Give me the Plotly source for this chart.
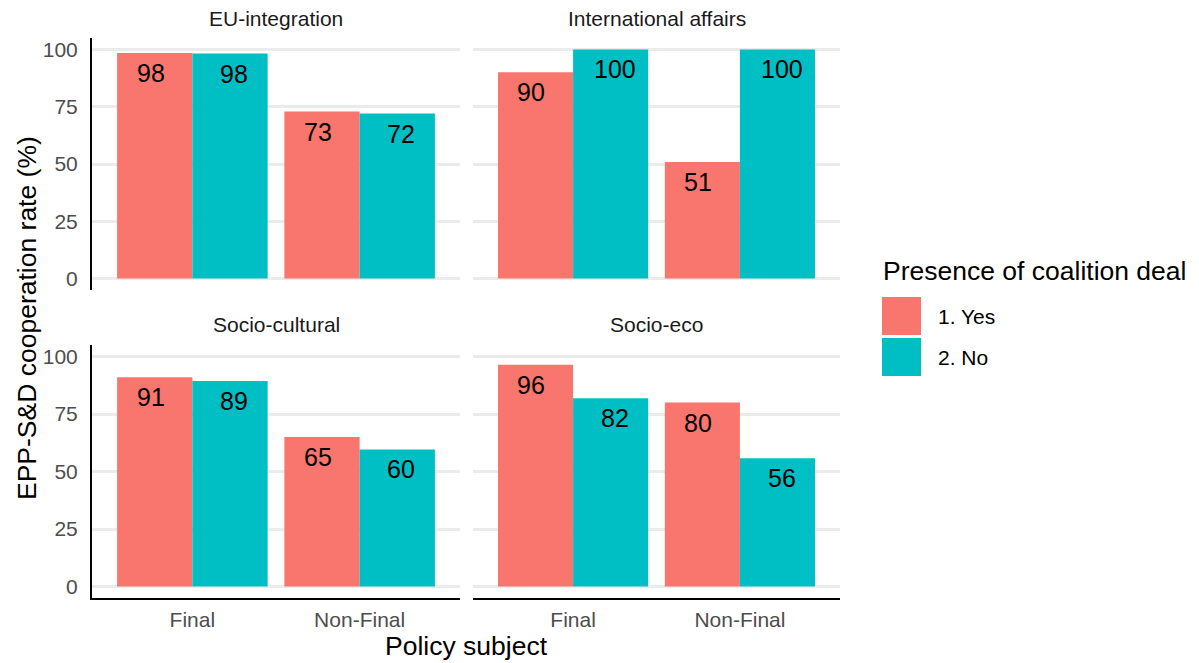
import plotly.graph_objects as go

# ---------------- data ----------------
facets = ["EU-integration", "International affairs", "Socio-cultural", "Socio-eco"]
categories = ["Final", "Non-Final"]
groups = ["1. Yes", "2. No"]
colors = ["#F8766D", "#00BFC4"]

yes_eu = [98.5, 72.9]
no_eu = [98.2, 72.0]
yes_ia = [90.0, 50.9]
no_ia = [100.0, 100.0]
yes_sc = [91.0, 65.0]
no_sc = [89.3, 59.6]
yes_se = [96.4, 80.0]
no_se = [81.9, 55.8]

yes_values = [yes_eu, yes_ia, yes_sc, yes_se]
no_values = [no_eu, no_ia, no_sc, no_se]

y_ticks = [0, 25, 50, 75, 100]

# ---------------- layout helpers ----------------
PAGE_OFF = 8            # default body margin of the html page
W, H = 1199 - PAGE_OFF, 663 - PAGE_OFF
FONT = "Liberation Sans, Arial, sans-serif"


def fx(p):  # screen pixel -> paper fraction
    return (p - PAGE_OFF) / W


def fy(p):
    return 1 - (p - PAGE_OFF) / H


xdoms = [(92, 460), (473, 840), (92, 460), (473, 840)]
ydoms = [(38, 290), (38, 290), (345, 598), (345, 598)]
show_y = [True, False, True, False]
show_x = [False, False, True, True]
strip_y = [18, 18, 325, 325]

fig = go.Figure()
annotations = []
layout_axes = {}

for i, facet in enumerate(facets):
    sfx = "" if i == 0 else str(i + 1)
    xref, yref = "x" + sfx, "y" + sfx
    for g, vals in enumerate([yes_values[i], no_values[i]]):
        fig.add_trace(go.Bar(
            x=categories, y=vals, name=groups[g],
            marker=dict(color=colors[g], line=dict(width=0)),
            xaxis=xref, yaxis=yref, showlegend=False,
            offsetgroup=str(g), hoverinfo="skip",
        ))
        for j, v in enumerate(vals):
            annotations.append(dict(
                x=j + (-0.25 if g == 0 else 0.25), y=v, xref=xref, yref=yref,
                text=str(round(v)), showarrow=False, yshift=-20,
                yanchor="middle", xanchor="center",
                font=dict(family=FONT, size=25, color="black"),
            ))
    x0, x1 = xdoms[i]
    y0, y1 = ydoms[i]
    layout_axes["xaxis" + sfx] = dict(
        domain=[fx(x0), fx(x1)], anchor=yref, type="category",
        range=[-0.6, 1.6], showgrid=False, zeroline=False,
        showline=show_x[i], linecolor="black", linewidth=2,
        showticklabels=show_x[i], ticks="outside" if show_x[i] else "",
        ticklen=2, tickcolor="rgba(0,0,0,0)",
        tickfont=dict(family=FONT, size=21, color="#4D4D4D"),
        fixedrange=True,
    )
    layout_axes["yaxis" + sfx] = dict(
        domain=[fy(y1), fy(y0)], anchor=xref, range=[-5, 105],
        tickvals=y_ticks, showgrid=True, gridcolor="#EBEBEB", gridwidth=3.2,
        zeroline=False, showline=show_y[i], linecolor="black", linewidth=2,
        showticklabels=show_y[i], ticks="outside" if show_y[i] else "",
        ticklen=8, tickcolor="rgba(0,0,0,0)",
        tickfont=dict(family=FONT, size=21, color="#4D4D4D"),
        fixedrange=True,
    )
    annotations.append(dict(
        x=fx((x0 + x1) / 2), y=fy(strip_y[i]), xref="paper", yref="paper",
        text=facet, showarrow=False, xanchor="center", yanchor="middle",
        font=dict(family=FONT, size=21, color="#1A1A1A"),
    ))

# axis titles
annotations.append(dict(
    x=fx(466), y=fy(646), xref="paper", yref="paper", text="Policy subject",
    showarrow=False, xanchor="center", yanchor="middle",
    font=dict(family=FONT, size=26.5, color="black"),
))
annotations.append(dict(
    x=fx(27), y=fy(318), xref="paper", yref="paper",
    text="EPP-S&amp;D cooperation rate (%)", textangle=-90,
    showarrow=False, xanchor="center", yanchor="middle",
    font=dict(family=FONT, size=26.5, color="black"),
))

# legend (drawn manually to get large ggplot-style keys)
annotations.append(dict(
    x=fx(881), y=fy(271), xref="paper", yref="paper",
    text="Presence of coalition deal", showarrow=False,
    xanchor="left", yanchor="middle",
    font=dict(family=FONT, size=26.5, color="black"),
))
shapes = []
key_tops = [297, 338]
for g, name in enumerate(groups):
    top = key_tops[g]
    shapes.append(dict(
        type="rect", xref="paper", yref="paper",
        x0=fx(882), x1=fx(921), y0=fy(top + 38), y1=fy(top),
        fillcolor=colors[g], line=dict(width=0),
    ))
    annotations.append(dict(
        x=fx(936), y=fy(top + 19), xref="paper", yref="paper",
        text=name, showarrow=False, xanchor="left", yanchor="middle",
        font=dict(family=FONT, size=21, color="black"),
    ))

fig.update_layout(
    width=W, height=H, autosize=False,
    margin=dict(l=0, r=0, t=0, b=0),
    paper_bgcolor="white", plot_bgcolor="white",
    barmode="group", bargap=0.1, bargroupgap=0,
    annotations=annotations, shapes=shapes,
    font=dict(family=FONT),
    **layout_axes,
)

fig.write_html("out.html")
